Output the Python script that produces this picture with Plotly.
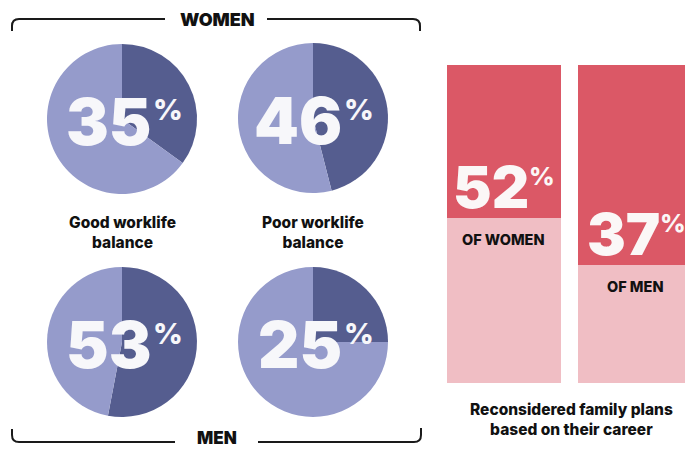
import plotly.graph_objects as go

# ---------------- data ----------------
pie_values = [35, 46, 53, 25]
pie_labels = ["Good worklife\nbalance", "Poor worklife\nbalance", "", ""]
group_titles = ["WOMEN", "MEN"]
bar_categories = ["OF WOMEN", "OF MEN"]
bar_values = [52, 37]
bar_caption = "Reconsidered family plans<br>based on their career"

W, H = 685, 449
PIE_DARK = "#555d8f"
PIE_LIGHT = "#959bcb"
BAR_DARK = "#db5866"
BAR_LIGHT = "#f0bec4"
INK = "#111111"
FONT = "Inter"


def px(x):
    return x / W


def py(y):
    return 1 - y / H


fig = go.Figure()

# pie geometry (pixel centres) for the four pies
pie_centres = [(122, 119), (313, 118), (122, 342), (313, 342)]
R = 75
annotations = []
for v, (cx, cy) in zip(pie_values, pie_centres):
    fig.add_trace(go.Pie(
        values=[v, 100 - v],
        labels=["yes", "no"],
        marker=dict(colors=[PIE_DARK, PIE_LIGHT], line=dict(width=0)),
        sort=False, direction="clockwise", rotation=0,
        textinfo="none", hoverinfo="skip", showlegend=False,
        domain=dict(x=[px(cx - R), px(cx + R)], y=[py(cy + R), py(cy - R)]),
    ))
    annotations.append(dict(
        text=str(v), x=px(cx + 31), y=py(cy + 2), xref="paper", yref="paper",
        xanchor="right", yanchor="middle", showarrow=False,
        font=dict(family=FONT, size=64, color="#f7f7fa", weight=900),
    ))
    annotations.append(dict(
        text="%", x=px(cx + 29), y=py(cy - 9), xref="paper", yref="paper",
        xanchor="left", yanchor="middle", showarrow=False,
        font=dict(family=FONT, size=29, color="#f7f7fa", weight=800),
    ))

# pie captions
for lab, (cx, cy) in zip(pie_labels, pie_centres):
    if lab:
        annotations.append(dict(
            text=lab.replace("\n", "<br>"), x=px(cx), y=py(232), xref="paper", yref="paper",
            xanchor="center", yanchor="middle", showarrow=False,
            font=dict(family=FONT, size=15.5, color=INK, weight=800),
        ))

# group titles
annotations.append(dict(text=group_titles[0], x=px(217), y=py(20), xref="paper", yref="paper",
                        xanchor="center", yanchor="middle", showarrow=False,
                        font=dict(family=FONT, size=18, color=INK, weight=900)))
annotations.append(dict(text=group_titles[1], x=px(217), y=py(438), xref="paper", yref="paper",
                        xanchor="center", yanchor="middle", showarrow=False,
                        font=dict(family=FONT, size=17, color=INK, weight=900)))

# stacked bars
fig.add_trace(go.Bar(
    x=bar_categories, y=bar_values, marker=dict(color=BAR_LIGHT, line=dict(width=0)),
    xaxis="x", yaxis="y", hoverinfo="skip", showlegend=False,
))
fig.add_trace(go.Bar(
    x=bar_categories, y=[100 - v for v in bar_values], marker=dict(color=BAR_DARK, line=dict(width=0)),
    xaxis="x", yaxis="y", hoverinfo="skip", showlegend=False,
))

for cat, v in zip(bar_categories, bar_values):
    annotations.append(dict(
        text=str(v), x=cat, y=v, xref="x", yref="y", xanchor="right", yanchor="bottom",
        xshift=27, yshift=-6, showarrow=False,
        font=dict(family=FONT, size=58, color="#fbf7f7", weight=900),
    ))
    annotations.append(dict(
        text="%", x=cat, y=v, xref="x", yref="y", xanchor="left", yanchor="bottom",
        xshift=23, yshift=25, showarrow=False,
        font=dict(family=FONT, size=25, color="#fbf7f7", weight=800),
    ))
    annotations.append(dict(
        text=cat, x=cat, y=v, xref="x", yref="y", xanchor="center", yanchor="top",
        yshift=-11, showarrow=False,
        font=dict(family=FONT, size=14.5, color=INK, weight=800),
    ))

annotations.append(dict(text=bar_caption, x=px(571), y=py(419), xref="paper", yref="paper",
                        xanchor="center", yanchor="middle", showarrow=False,
                        font=dict(family=FONT, size=15.5, color=INK, weight=800)))


def path(points_cmds):
    out = []
    for cmd, pts in points_cmds:
        coords = " ".join(f"{px(x):.5f},{py(y):.5f}" for x, y in pts)
        out.append(f"{cmd} {coords}")
    return " ".join(out)


line_style = dict(color="#1a1a1a", width=2)
shapes = [
    dict(type="path", xref="paper", yref="paper", line=line_style,
         path=path([("M", [(12, 31)]), ("L", [(12, 26)]), ("Q", [(12, 19), (19, 19)]), ("L", [(165, 19)])])),
    dict(type="path", xref="paper", yref="paper", line=line_style,
         path=path([("M", [(267, 19)]), ("L", [(413, 19)]), ("Q", [(420, 19), (420, 26)]), ("L", [(420, 31)])])),
    dict(type="path", xref="paper", yref="paper", line=line_style,
         path=path([("M", [(12, 429)]), ("L", [(12, 435)]), ("Q", [(12, 442), (19, 442)]), ("L", [(175, 442)])])),
    dict(type="path", xref="paper", yref="paper", line=line_style,
         path=path([("M", [(258, 442)]), ("L", [(414, 442)]), ("Q", [(421, 442), (421, 435)]), ("L", [(421, 428)])])),
]

unit = 131  # px between bar centres
dom_left = 447
xr0 = -(504 - dom_left) / unit
xr1 = xr0 + (W - dom_left) / unit

fig.update_layout(
    width=W, height=H, margin=dict(l=0, r=0, t=0, b=0),
    paper_bgcolor="white", plot_bgcolor="rgba(0,0,0,0)",
    barmode="stack", bargap=1 - 114 / unit,
    xaxis=dict(domain=[px(dom_left), 1], range=[xr0, xr1], visible=False, fixedrange=True),
    yaxis=dict(domain=[py(383), py(65)], range=[0, 100], visible=False, fixedrange=True),
    annotations=annotations, shapes=shapes, showlegend=False,
)

fig.write_html("out.html")
